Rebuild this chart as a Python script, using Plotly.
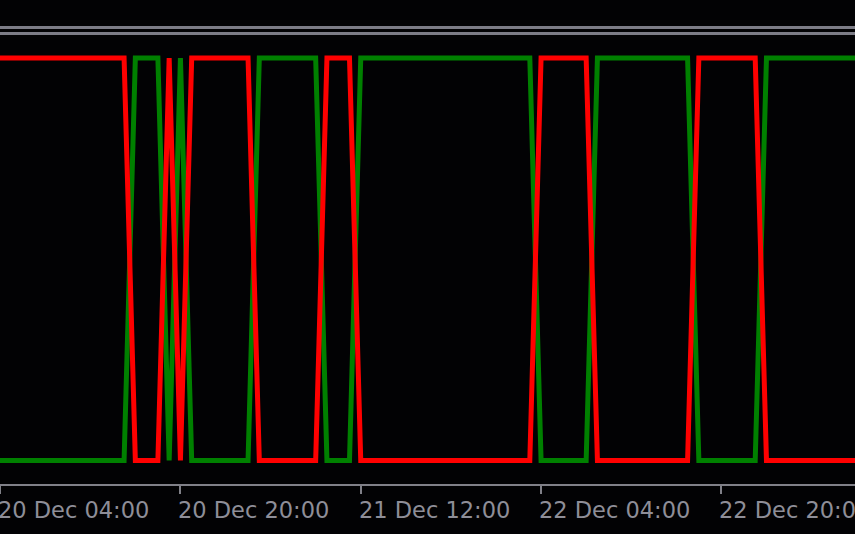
import pandas as pd
import plotly.graph_objects as go

# Hourly bars from 20 Dec 03:00 to 23 Dec 08:00
bar_times = pd.date_range("2021-12-20 03:00", "2021-12-23 08:00", freq="h")

red_values = [1, 1, 1, 1, 1, 1, 1, 1, 1, 1, 1, 1, 1,
              0, 0, 0,
              1,
              0,
              1, 1, 1, 1, 1, 1,
              0, 0, 0, 0, 0, 0,
              1, 1, 1,
              0, 0, 0, 0, 0, 0, 0, 0, 0, 0, 0, 0, 0, 0, 0, 0,
              1, 1, 1, 1, 1,
              0, 0, 0, 0, 0, 0, 0, 0, 0,
              1, 1, 1, 1, 1, 1,
              0, 0, 0, 0, 0, 0, 0, 0, 0]

green_values = [0, 0, 0, 0, 0, 0, 0, 0, 0, 0, 0, 0, 0,
                1, 1, 1,
                0,
                1,
                0, 0, 0, 0, 0, 0,
                1, 1, 1, 1, 1, 1,
                0, 0, 0,
                1, 1, 1, 1, 1, 1, 1, 1, 1, 1, 1, 1, 1, 1, 1, 1,
                0, 0, 0, 0, 0,
                1, 1, 1, 1, 1, 1, 1, 1, 1,
                0, 0, 0, 0, 0, 0,
                1, 1, 1, 1, 1, 1, 1, 1, 1]

tick_times = ["2021-12-20 04:00", "2021-12-20 20:00", "2021-12-21 12:00",
              "2021-12-22 04:00", "2021-12-22 20:00"]
tick_labels = ["20 Dec 04:00", "20 Dec 20:00", "21 Dec 12:00",
               "22 Dec 04:00", "22 Dec 20:00"]

BG = "#020204"
AXIS = "#808088"
TEXT = "#8e8e98"

fig = go.Figure()
fig.add_trace(go.Scatter(x=bar_times, y=green_values, mode="lines",
                         line=dict(color="#008000", width=5),
                         hoverinfo="skip", showlegend=False))
fig.add_trace(go.Scatter(x=bar_times, y=red_values, mode="lines",
                         line=dict(color="#ff0000", width=5),
                         hoverinfo="skip", showlegend=False))

# separator lines at the top of the indicator window
for yp in (1 - 27.5 / 484, 1 - 33.5 / 484):
    fig.add_shape(type="line", xref="paper", yref="paper", x0=0, x1=1,
                  y0=yp, y1=yp, line=dict(color="#7c7c86", width=3))

for t, lab in zip(tick_times, tick_labels):
    fig.add_annotation(x=t, xref="x", y=(484 - 510) / 484, yref="paper",
                       text=lab, showarrow=False, xanchor="left",
                       yanchor="middle", xshift=-4,
                       font=dict(family="DejaVu Sans", size=22.5, color=TEXT))

fig.update_layout(
    width=855, height=534,
    margin=dict(l=0, r=0, t=0, b=50),
    paper_bgcolor=BG, plot_bgcolor=BG,
    hovermode=False,
    xaxis=dict(range=["2021-12-20 03:59:24", "2021-12-23 07:51:18"],
               showgrid=False, zeroline=False,
               showline=True, linecolor=AXIS, linewidth=2,
               ticks="outside", tickvals=tick_times, ticklen=8,
               tickwidth=2, tickcolor=AXIS, showticklabels=False),
    yaxis=dict(range=[-0.05839, 1.14410], visible=False,
               showgrid=False, zeroline=False),
)

fig.write_html(
    "out.html",
    config={"displayModeBar": False},
    post_script="document.body.style.margin='0';document.body.style.padding='0';"
                "document.body.style.background='" + BG + "';",
)
